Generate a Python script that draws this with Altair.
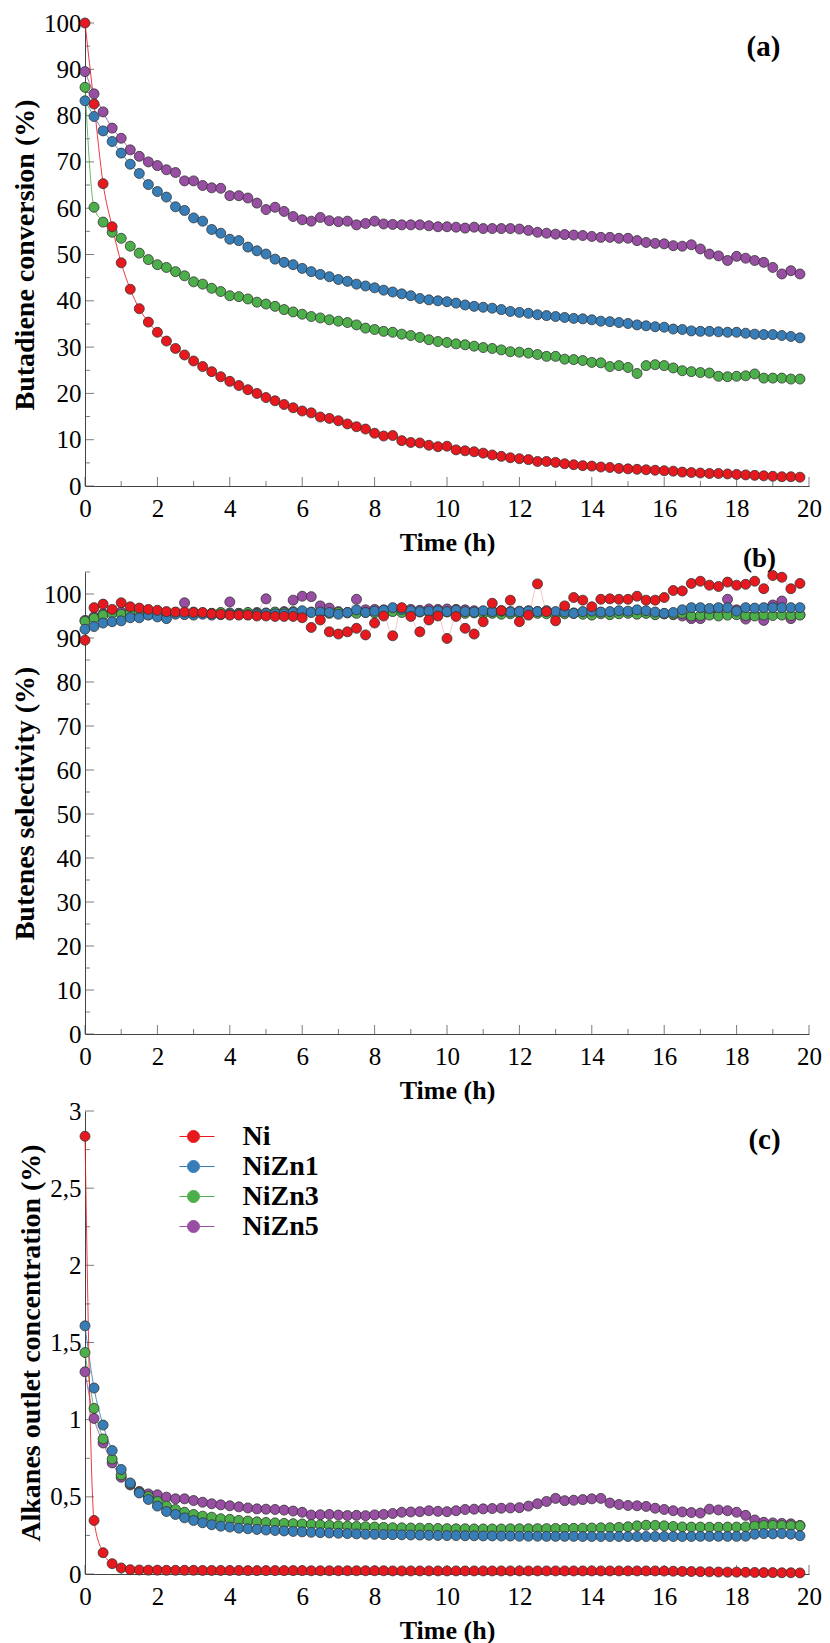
import altair as alt
import pandas as pd

FONT = "Liberation Serif"

TIME = [0, 0.25, 0.5, 0.75, 1, 1.25, 1.5, 1.75, 2, 2.25,
        2.5, 2.75, 3, 3.25, 3.5, 3.75, 4, 4.25, 4.5, 4.75,
        5, 5.25, 5.5, 5.75, 6, 6.25, 6.5, 6.75, 7, 7.25,
        7.5, 7.75, 8, 8.25, 8.5, 8.75, 9, 9.25, 9.5, 9.75,
        10, 10.25, 10.5, 10.75, 11, 11.25, 11.5, 11.75, 12, 12.25,
        12.5, 12.75, 13, 13.25, 13.5, 13.75, 14, 14.25, 14.5, 14.75,
        15, 15.25, 15.5, 15.75, 16, 16.25, 16.5, 16.75, 17, 17.25,
        17.5, 17.75, 18, 18.25, 18.5, 18.75, 19, 19.25, 19.5, 19.75]

SERIES = ["Ni", "NiZn1", "NiZn3", "NiZn5"]
COLORS = ["#e8191e", "#377eb8", "#4daf4a", "#984ea3"]
DRAW_ORDER = ["NiZn5", "NiZn3", "NiZn1", "Ni"]

# ---- (a) Butadiene conversion (%)
conv_ni = [100, 82.5, 65.3, 56.0, 48.2, 42.5, 38.3, 35.4, 33.2, 31.3,
           29.7, 28.3, 27.0, 25.8, 24.7, 23.6, 22.6, 21.7, 20.8, 20.0,
           19.1, 18.4, 17.6, 16.9, 16.2, 15.8, 14.9, 14.6, 14.1, 13.4,
           12.8, 12.3, 11.4, 10.8, 10.9, 9.8, 9.4, 9.3, 8.8, 8.5,
           8.6, 7.8, 7.6, 7.4, 7.1, 6.7, 6.4, 6.1, 5.9, 5.7,
           5.3, 5.3, 5.1, 4.8, 4.6, 4.4, 4.3, 4.1, 4.0, 3.8,
           3.7, 3.6, 3.5, 3.4, 3.3, 3.2, 3.0, 2.9, 2.8, 2.7,
           2.7, 2.6, 2.5, 2.4, 2.3, 2.2, 2.1, 2.0, 2.0, 1.9]
conv_nizn1 = [83.2, 79.8, 76.7, 74.4, 71.9, 69.5, 67.5, 65.1, 63.6, 62.4,
              60.3, 59.5, 57.9, 57.2, 55.4, 54.6, 53.3, 53.0, 51.6, 50.8,
              50.1, 49.0, 48.3, 47.8, 47.0, 46.3, 45.7, 45.2, 44.6, 44.2,
              43.6, 43.2, 42.8, 42.3, 41.9, 41.5, 41.1, 40.5, 40.2, 40.0,
              39.8, 39.5, 39.1, 38.8, 38.6, 38.4, 38.1, 37.7, 37.5, 37.3,
              37.0, 36.8, 36.6, 36.4, 36.2, 36.1, 35.9, 35.6, 35.5, 35.3,
              35.1, 34.8, 34.6, 34.4, 34.3, 33.9, 33.8, 33.5, 33.4, 33.4,
              33.3, 33.2, 33.2, 33.0, 32.8, 32.7, 32.7, 32.5, 32.3, 32.0]
conv_nizn3 = [86.1, 60.2, 57.0, 54.8, 53.5, 51.8, 50.3, 48.9, 47.8, 47.2,
              46.3, 45.4, 44.1, 43.6, 42.7, 42.0, 41.1, 40.9, 40.4, 39.7,
              39.3, 38.8, 38.1, 37.6, 37.1, 36.6, 36.3, 35.9, 35.6, 35.3,
              34.8, 34.1, 33.8, 33.4, 33.2, 32.8, 32.5, 32.1, 31.6, 31.2,
              31.0, 30.7, 30.5, 30.2, 29.9, 29.7, 29.4, 29.0, 28.9, 28.7,
              28.4, 28.0, 28.0, 27.4, 27.3, 27.1, 26.7, 26.6, 25.8, 26.0,
              25.6, 24.3, 26.0, 26.2, 26.0, 25.5, 24.9, 24.7, 24.5, 24.4,
              23.7, 23.6, 23.7, 23.8, 24.2, 23.3, 23.3, 23.3, 23.1, 23.1]
conv_nizn5 = [89.5, 84.7, 80.8, 77.3, 75.1, 72.6, 71.2, 70.0, 69.2, 68.3,
              67.7, 65.9, 65.9, 64.9, 64.4, 64.3, 62.7, 62.7, 62.2, 61.1,
              59.7, 60.2, 59.3, 58.2, 57.5, 57.2, 58.0, 57.3, 57.1, 57.2,
              56.4, 56.7, 57.2, 56.6, 56.5, 56.4, 56.4, 56.4, 56.2, 56.0,
              56.0, 55.9, 55.7, 55.9, 55.6, 55.6, 55.6, 55.6, 55.5, 55.2,
              54.8, 54.6, 54.4, 54.3, 54.2, 54.1, 53.9, 53.7, 53.7, 53.5,
              53.5, 53.0, 52.6, 52.4, 52.3, 51.9, 51.8, 52.1, 51.2, 50.1,
              49.7, 48.7, 49.6, 49.2, 48.7, 48.3, 47.2, 45.8, 46.5, 45.8]

# ---- (b) Butenes selectivity (%)
sel_ni = [89.5, 96.9, 97.7, 96.5, 98.0, 97.1, 96.8, 96.5, 96.3, 96.0,
          95.9, 95.9, 95.8, 95.8, 95.5, 95.4, 95.2, 95.2, 95.2, 95.0,
          95.0, 94.9, 94.9, 94.9, 94.6, 92.4, 94.1, 91.4, 90.9, 91.4,
          92.2, 90.7, 93.4, 95.0, 90.5, 96.9, 94.9, 91.4, 94.1, 95.0,
          89.9, 94.9, 92.2, 90.9, 93.7, 97.9, 96.2, 98.6, 93.7, 95.2,
          102.3, 96.0, 93.9, 97.3, 99.2, 98.6, 97.1, 98.8, 98.9, 98.8,
          98.8, 99.5, 98.6, 98.6, 99.2, 100.8, 100.7, 102.4, 102.9, 102.0,
          101.7, 102.7, 102.0, 102.2, 102.9, 101.2, 104.2, 103.8, 101.2, 102.4]
sel_nizn1 = [92.0, 92.6, 93.4, 93.7, 93.9, 94.6, 94.6, 95.2, 94.8, 94.4,
             95.4, 95.3, 95.2, 95.4, 95.2, 95.3, 95.5, 95.4, 95.3, 95.4,
             95.6, 95.5, 95.5, 95.8, 96.2, 95.8, 95.9, 95.8, 95.4, 95.8,
             96.4, 95.8, 96.1, 96.3, 96.9, 96.5, 96.2, 96.0, 96.1, 96.2,
             96.0, 96.3, 96.0, 95.9, 96.2, 96.0, 96.1, 95.9, 96.0, 96.1,
             96.0, 96.2, 96.0, 95.9, 95.6, 96.0, 96.1, 95.9, 96.0, 96.2,
             96.1, 96.4, 96.2, 95.9, 95.6, 95.8, 96.4, 96.9, 96.9, 96.7,
             96.9, 96.9, 96.1, 96.9, 96.8, 96.9, 96.9, 96.9, 96.9, 96.9]
sel_nizn3 = [93.8, 94.5, 95.2, 95.6, 95.4, 95.6, 95.8, 95.7, 95.6, 95.8,
             95.7, 95.6, 95.9, 95.7, 95.6, 95.8, 95.7, 95.6, 95.8, 95.6,
             95.7, 95.9, 95.8, 96.0, 95.8, 95.9, 95.7, 95.6, 95.8, 95.7,
             95.6, 95.8, 95.7, 95.9, 96.0, 95.8, 95.7, 95.9, 95.8, 95.7,
             95.9, 95.8, 95.6, 95.7, 95.5, 95.6, 95.4, 95.5, 95.6, 95.4,
             95.6, 95.5, 95.3, 95.5, 95.6, 95.4, 95.2, 95.5, 95.3, 95.5,
             95.6, 95.4, 95.6, 95.3, 95.5, 95.4, 95.6, 95.0, 95.1, 95.2,
             95.0, 95.2, 95.3, 95.1, 95.0, 95.2, 95.1, 95.2, 95.1, 95.2]
sel_nizn5 = [94.0, 94.8, 95.5, 95.8, 95.9, 95.5, 95.4, 95.3, 95.6, 95.7,
             95.8, 98.0, 95.5, 95.6, 95.6, 95.7, 98.2, 95.6, 95.7, 95.8,
             98.9, 95.8, 96.0, 98.6, 99.5, 99.4, 97.3, 96.8, 96.0, 95.8,
             98.8, 96.4, 96.5, 96.4, 96.5, 96.6, 96.5, 96.3, 96.6, 96.5,
             96.6, 96.5, 96.4, 96.2, 96.0, 96.1, 96.2, 96.0, 96.1, 96.2,
             96.0, 96.1, 95.8, 95.9, 95.7, 95.8, 95.6, 95.8, 95.6, 95.7,
             95.8, 95.6, 95.7, 95.4, 95.5, 95.3, 95.0, 94.4, 94.4, 96.0,
             96.5, 98.8, 96.4, 94.3, 95.2, 94.0, 97.5, 98.4, 94.4, 95.3]

# ---- (c) Alkanes outlet concentration (%)
alk_ni = [2.836, 0.347, 0.138, 0.067, 0.039, 0.028, 0.026, 0.025, 0.025, 0.024,
          0.024, 0.024, 0.024, 0.023, 0.023, 0.023, 0.023, 0.023, 0.022, 0.022,
          0.022, 0.022, 0.022, 0.022, 0.022, 0.021, 0.021, 0.021, 0.021, 0.021,
          0.021, 0.021, 0.021, 0.021, 0.020, 0.020, 0.020, 0.020, 0.020, 0.020,
          0.020, 0.020, 0.020, 0.020, 0.020, 0.020, 0.020, 0.020, 0.020, 0.020,
          0.020, 0.020, 0.020, 0.020, 0.020, 0.020, 0.020, 0.020, 0.020, 0.020,
          0.020, 0.020, 0.020, 0.020, 0.019, 0.018, 0.017, 0.016, 0.015, 0.014,
          0.013, 0.012, 0.012, 0.011, 0.010, 0.009, 0.009, 0.008, 0.008, 0.007]
alk_nizn1 = [1.608, 1.205, 0.965, 0.800, 0.677, 0.590, 0.525, 0.483, 0.440, 0.405,
             0.386, 0.364, 0.347, 0.332, 0.319, 0.310, 0.304, 0.297, 0.293, 0.289,
             0.285, 0.282, 0.279, 0.276, 0.273, 0.270, 0.268, 0.266, 0.264, 0.262,
             0.260, 0.258, 0.257, 0.256, 0.255, 0.254, 0.253, 0.252, 0.251, 0.250,
             0.249, 0.249, 0.248, 0.248, 0.247, 0.247, 0.246, 0.246, 0.245, 0.245,
             0.245, 0.244, 0.244, 0.244, 0.244, 0.243, 0.243, 0.243, 0.243, 0.243,
             0.243, 0.243, 0.243, 0.243, 0.243, 0.243, 0.243, 0.243, 0.244, 0.244,
             0.244, 0.244, 0.244, 0.245, 0.258, 0.262, 0.260, 0.262, 0.258, 0.248]
alk_nizn3 = [1.435, 1.073, 0.875, 0.745, 0.642, 0.584, 0.530, 0.502, 0.470, 0.440,
             0.418, 0.400, 0.386, 0.375, 0.368, 0.358, 0.354, 0.347, 0.343, 0.338,
             0.334, 0.331, 0.328, 0.326, 0.324, 0.321, 0.318, 0.315, 0.312, 0.310,
             0.308, 0.306, 0.304, 0.302, 0.300, 0.299, 0.298, 0.297, 0.296, 0.295,
             0.294, 0.293, 0.293, 0.292, 0.292, 0.292, 0.292, 0.293, 0.293, 0.293,
             0.294, 0.294, 0.295, 0.295, 0.296, 0.297, 0.298, 0.299, 0.300, 0.302,
             0.306, 0.312, 0.316, 0.315, 0.312, 0.308, 0.305, 0.304, 0.304, 0.303,
             0.303, 0.304, 0.304, 0.305, 0.310, 0.314, 0.315, 0.314, 0.313, 0.312]
alk_nizn5 = [1.310, 1.008, 0.849, 0.720, 0.627, 0.577, 0.535, 0.519, 0.513, 0.498,
             0.487, 0.487, 0.476, 0.465, 0.455, 0.448, 0.442, 0.435, 0.428, 0.422,
             0.420, 0.418, 0.414, 0.408, 0.400, 0.382, 0.384, 0.386, 0.382, 0.379,
             0.380, 0.378, 0.383, 0.386, 0.392, 0.400, 0.402, 0.404, 0.410, 0.406,
             0.404, 0.410, 0.418, 0.420, 0.422, 0.424, 0.426, 0.428, 0.430, 0.440,
             0.455, 0.470, 0.490, 0.475, 0.478, 0.482, 0.487, 0.490, 0.460, 0.450,
             0.444, 0.442, 0.438, 0.426, 0.418, 0.410, 0.402, 0.398, 0.395, 0.420,
             0.415, 0.410, 0.400, 0.380, 0.350, 0.335, 0.331, 0.328, 0.325, 0.315]

X_MAJOR = [0, 2, 4, 6, 8, 10, 12, 14, 16, 18, 20]
X_MINOR = [1, 3, 5, 7, 9, 11, 13, 15, 17, 19]
A_MAJOR = [0, 10, 20, 30, 40, 50, 60, 70, 80, 90, 100]
A_MINOR = [5, 15, 25, 35, 45, 55, 65, 75, 85, 95]
B_MAJOR = [0, 10, 20, 30, 40, 50, 60, 70, 80, 90, 100]
B_MINOR = [5, 15, 25, 35, 45, 55, 65, 75, 85, 95, 105]
C_MAJOR = [0, 0.5, 1, 1.5, 2, 2.5, 3]
C_MINOR = [0.25, 0.75, 1.25, 1.75, 2.25, 2.75]

AXIS_COLOR = "#444444"
PLOT_W = 724
LEGEND_SYMBOL = "M-3.5,0H-1M1,0H3.5M-1,0A1,1,0,1,1,1,0A1,1,0,1,1,-1,0Z"


def long_df(d):
    rows = []
    for name in DRAW_ORDER:
        for t, v in zip(TIME, d[name]):
            rows.append({"t": t, "v": v, "cat": name})
    return pd.DataFrame(rows)


def panel(d, ydom, ymaj, ymin, ytitle, h, texts, label_expr=None, legend=False,
          line_opacity=0.85):
    data = long_df(d)
    xs = alt.Scale(domain=[0, 20], nice=False, zero=False)
    ys = alt.Scale(domain=ydom, nice=False, zero=False)
    cscale = alt.Scale(domain=SERIES, range=COLORS)
    xaxis = alt.Axis(values=X_MAJOR, format="d", title="Time (h)", labelPadding=10,
                     titlePadding=8, ticks=False, tickSize=0, domainColor=AXIS_COLOR,
                     domainWidth=1, labelFlush=False)
    yargs = dict(values=ymaj, title=ytitle, labelPadding=4, titlePadding=4, ticks=False,
                 tickSize=0, domainColor=AXIS_COLOR, domainWidth=1, labelFlush=False,
                 titleFontSize=28)
    if label_expr:
        yargs["labelExpr"] = label_expr
    yaxis = alt.Axis(**yargs)

    if legend:
        leg = alt.Legend(orient="none", legendX=94.5, legendY=10.5, symbolType=LEGEND_SYMBOL,
                         symbolSize=144, symbolStrokeWidth=1, symbolOpacity=1,
                         labelFont=FONT, labelFontSize=28, labelFontWeight="bold",
                         labelColor="black", labelOffset=35, title=None, padding=0,
                         clipHeight=30, rowPadding=0, labelLimit=300)
    else:
        leg = None

    def X(f):
        return alt.X(f, scale=xs, axis=xaxis)

    def Y(f):
        return alt.Y(f, scale=ys, axis=yaxis)

    lines = alt.Chart(data).mark_line(strokeWidth=1, interpolate="monotone",
                                      opacity=line_opacity).encode(
        x=X("t:Q"), y=Y("v:Q"),
        color=alt.Color("cat:N", scale=cscale, legend=leg),
    )
    points = alt.Chart(data).mark_circle(size=100, opacity=1, stroke="#333333",
                                         strokeWidth=0.8).encode(
        x=X("t:Q"), y=Y("v:Q"),
        fill=alt.Fill("cat:N", scale=cscale, legend=leg),
    )

    def tick_df(vals, base):
        return pd.DataFrame({"t": vals, "v": [base] * len(vals)})

    xt_major = alt.Chart(tick_df(X_MAJOR, ydom[0])).mark_tick(
        orient="vertical", size=9, thickness=1, yOffset=-4.5, color=AXIS_COLOR).encode(
        x=X("t:Q"), y=Y("v:Q"))
    xt_minor = alt.Chart(tick_df(X_MINOR, ydom[0])).mark_tick(
        orient="vertical", size=5, thickness=1, yOffset=-2.5, color=AXIS_COLOR).encode(
        x=X("t:Q"), y=Y("v:Q"))
    yt_major = alt.Chart(pd.DataFrame({"v": ymaj, "t": [0] * len(ymaj)})).mark_tick(
        orient="horizontal", size=9, thickness=1, xOffset=4.5, color=AXIS_COLOR).encode(
        x=X("t:Q"), y=Y("v:Q"))
    yt_minor = alt.Chart(pd.DataFrame({"v": ymin, "t": [0] * len(ymin)})).mark_tick(
        orient="horizontal", size=5, thickness=1, xOffset=2.5, color=AXIS_COLOR).encode(
        x=X("t:Q"), y=Y("v:Q"))

    text_layers = []
    for s, tx, ty, fs in texts:
        text_layers.append(
            alt.Chart(pd.DataFrame({"s": [s]})).mark_text(
                font=FONT, fontSize=fs, fontWeight="bold", color="black",
                align="center", baseline="middle").encode(
                text="s:N", x=alt.value(tx), y=alt.value(ty)))

    return alt.layer(xt_major, xt_minor, yt_major, yt_minor, lines, points,
                     *text_layers).properties(width=PLOT_W, height=h)


pa = panel({"Ni": conv_ni, "NiZn1": conv_nizn1, "NiZn3": conv_nizn3, "NiZn5": conv_nizn5},
           [0, 100], A_MAJOR, A_MINOR, "Butadiene conversion (%)", 463,
           [("(a)", 678.5, 24, 29), ("(b)", 674.5, 536, 27)])
pb = panel({"Ni": sel_ni, "NiZn1": sel_nizn1, "NiZn3": sel_nizn3, "NiZn5": sel_nizn5},
           [0, 105], B_MAJOR, B_MINOR, "Butenes selectivity (%)", 462, [],
           line_opacity=0.25)
pc = panel({"Ni": alk_ni, "NiZn1": alk_nizn1, "NiZn3": alk_nizn3, "NiZn5": alk_nizn5},
           [0, 3], C_MAJOR, C_MINOR, "Alkanes outlet concentration (%)", 463,
           [("(c)", 679.5, 28.5, 29)],
           label_expr="replace(format(datum.value, '~g'), '.', ',')", legend=True)

chart = alt.vconcat(pa, pb, pc, spacing=-4).resolve_scale(
    color="independent", fill="independent", x="independent", y="independent"
).properties(
    padding={"left": 3, "top": 3, "right": 0, "bottom": 0}
).configure_axis(
    labelFont=FONT, labelFontSize=25, labelColor="black",
    titleFont=FONT, titleFontSize=26, titleFontWeight="bold", titleColor="black",
    grid=False,
).configure_view(stroke=None)

chart.save("out.html", embed_options={"renderer": "svg", "actions": False})
